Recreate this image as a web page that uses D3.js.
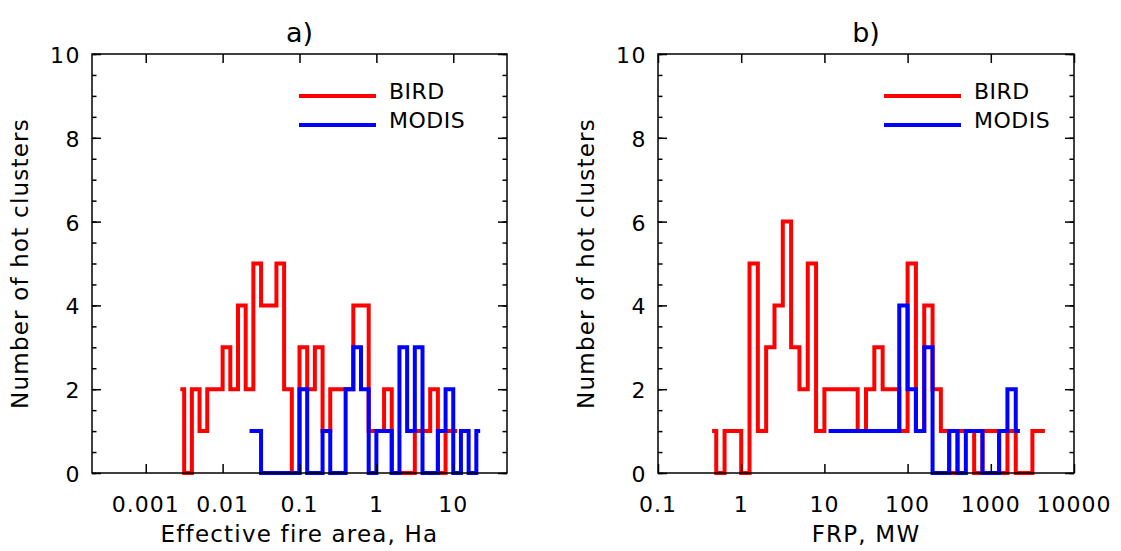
<html>
    <head>
       <script src="https://cdn.jsdelivr.net/npm/d3@7"></script>
       <style>
           body {
               margin: 0;
               background: white;
           }
           text {
               font-family: "DejaVu Sans", sans-serif;
               fill: black;
           }
       </style>
    </head>
    <body>
        <svg id="chart"></svg>
        <script>

            // bin centres are given as log10 exponents, counts per bin
            let areaBirdExp = [-2.55,-2.45,-2.35,-2.25,-2.15,-2.05,-1.95,-1.85,-1.75,-1.65,
                               -1.55,-1.45,-1.35,-1.25,-1.15,-1.05,-0.95,-0.85,-0.75,-0.65,
                               -0.55,-0.45,-0.35,-0.25,-0.15,-0.05,0.05,0.15,0.25,0.35,
                               0.45,0.55,0.65,0.75,0.85,0.95,1.05]
            let areaBirdCount = [2,0,2,1,2,2,3,2,4,2,
                                 5,4,4,5,2,0,3,2,3,1,
                                 2,2,2,4,4,1,1,2,0,0,
                                 0,1,1,2,0,1,1]

            let areaModisExp = [-1.65,-1.55,-1.45,-1.35,-1.25,-1.15,-1.05,-0.95,-0.85,-0.75,
                                -0.65,-0.55,-0.45,-0.35,-0.25,-0.15,-0.05,0.05,0.15,0.25,
                                0.35,0.45,0.55,0.65,0.75,0.85,0.95,1.05,1.15,1.25,1.35]
            let areaModisCount = [1,1,0,0,0,0,0,2,0,0,
                                  1,0,0,2,3,2,0,1,1,0,
                                  3,1,3,0,0,1,2,0,1,0,1]

            let frpBirdExp = [-0.35,-0.25,-0.15,-0.05,0.05,0.15,0.25,0.35,0.45,0.55,
                              0.65,0.75,0.85,0.95,1.05,1.15,1.25,1.35,1.45,1.55,
                              1.65,1.75,1.85,1.95,2.05,2.15,2.25,2.35,2.45,2.55,
                              2.65,2.75,2.85,2.95,3.05,3.15,3.25,3.35,3.45,3.55,3.65]
            let frpBirdCount = [1,0,1,1,0,5,1,3,4,6,
                                3,2,5,1,2,2,2,2,1,2,
                                3,2,2,1,5,1,4,2,1,0,
                                1,1,0,1,1,0,1,0,0,1,1]

            let frpModisExp = [1.05,1.15,1.25,1.35,1.45,1.55,1.65,1.75,1.85,1.95,
                               2.05,2.15,2.25,2.35,2.45,2.55,2.65,2.75,2.85,2.95,
                               3.05,3.15,3.25,3.35]
            let frpModisCount = [1,1,1,1,1,1,1,1,1,4,
                                 2,1,3,0,0,1,0,1,1,0,
                                 0,1,2,1]

            let areaTicks = [0.001, 0.01, 0.1, 1, 10]
            let areaTickLabels = ["0.001", "0.01", "0.1", "1", "10"]
            let frpTicks = [0.1, 1, 10, 100, 1000, 10000]
            let frpTickLabels = ["0.1", "1", "10", "100", "1000", "10000"]
            let yTicks = [0, 2, 4, 6, 8, 10]
            let yMinorTicks = d3.range(0, 10.01, 0.5)

            let seriesNames = ["BIRD", "MODIS"]
            let seriesColors = ["#ff0000", "#0000ff"]

            let panels = [
                {
                    title: "a)",
                    xTitle: "Effective fire area, Ha",
                    domain: [0.0002, 50],
                    left: 92, right: 507,
                    ticks: areaTicks, tickLabels: areaTickLabels,
                    series: [
                        { exp: areaBirdExp, count: areaBirdCount },
                        { exp: areaModisExp, count: areaModisCount }
                    ],
                    legendX: 299
                },
                {
                    title: "b)",
                    xTitle: "FRP, MW",
                    domain: [0.1, 10000],
                    left: 658, right: 1074,
                    ticks: frpTicks, tickLabels: frpTickLabels,
                    series: [
                        { exp: frpBirdExp, count: frpBirdCount },
                        { exp: frpModisExp, count: frpModisCount }
                    ],
                    legendX: 884
                }
            ]

            let width = 1121
            let height = 551
            let plotTop = 54
            let plotBottom = 473

            let svg = d3.select("#chart")
                        .attr("width", width)
                        .attr("height", height)

            let yScale = d3.scaleLinear()
                           .domain([0, 10])
                           .range([plotBottom, plotTop])

            function drawPanel(p) {
                let xScale = d3.scaleLog()
                               .domain(p.domain)
                               .range([p.left, p.right])

                let g = svg.append("g")

                // histograms
                let line = d3.line()
                             .x(d => xScale(Math.pow(10, d[0])))
                             .y(d => yScale(d[1]))
                             .curve(d3.curveStep)

                p.series.forEach((s, i) => {
                    let pts = s.exp.map((e, j) => [e, s.count[j]])
                    g.append("path")
                     .attr("d", line(pts))
                     .attr("fill", "none")
                     .attr("stroke", seriesColors[i])
                     .attr("stroke-width", 4)
                     .attr("stroke-linejoin", "miter")
                })

                // frame + ticks
                let bw = p.right - p.left
                let bh = plotBottom - plotTop

                g.append("g")
                 .attr("transform", `translate(0,${plotBottom})`)
                 .call(d3.axisTop(xScale).tickValues(p.ticks).tickSize(9).tickFormat(""))
                g.append("g")
                 .attr("transform", `translate(0,${plotTop})`)
                 .call(d3.axisBottom(xScale).tickValues(p.ticks).tickSize(9).tickFormat(""))
                g.append("g")
                 .attr("transform", `translate(${p.left},0)`)
                 .call(d3.axisRight(yScale).tickValues(yMinorTicks).tickSize(4.5).tickFormat(""))
                g.append("g")
                 .attr("transform", `translate(${p.left},0)`)
                 .call(d3.axisRight(yScale).tickValues(yTicks).tickSize(9).tickFormat(""))
                g.append("g")
                 .attr("transform", `translate(${p.right},0)`)
                 .call(d3.axisLeft(yScale).tickValues(yMinorTicks).tickSize(4.5).tickFormat(""))
                g.append("g")
                 .attr("transform", `translate(${p.right},0)`)
                 .call(d3.axisLeft(yScale).tickValues(yTicks).tickSize(9).tickFormat(""))

                g.selectAll(".domain").remove()
                g.selectAll(".tick line").attr("stroke", "black").attr("stroke-width", 1.5)

                g.append("rect")
                 .attr("x", p.left)
                 .attr("y", plotTop)
                 .attr("width", bw)
                 .attr("height", bh)
                 .attr("fill", "none")
                 .attr("stroke", "black")
                 .attr("stroke-width", 1.5)

                // tick labels
                g.selectAll(".xlab")
                 .data(p.ticks)
                 .enter()
                 .append("text")
                 .attr("x", d => xScale(d))
                 .attr("y", 512)
                 .attr("text-anchor", "middle")
                 .style("font-size", "22px")
                 .style("letter-spacing", "1px")
                 .text((d, i) => p.tickLabels[i])

                g.selectAll(".ylab")
                 .data(yTicks)
                 .enter()
                 .append("text")
                 .attr("x", p.left - 11)
                 .attr("y", d => yScale(d) + 9)
                 .attr("text-anchor", "end")
                 .style("font-size", "22px")
                 .style("letter-spacing", "1.5px")
                 .text(d => d)

                // titles
                g.append("text")
                 .attr("x", (p.left + p.right) / 2)
                 .attr("y", 42)
                 .attr("text-anchor", "middle")
                 .style("font-size", "27px")
                 .text(p.title)

                g.append("text")
                 .attr("x", (p.left + p.right) / 2)
                 .attr("y", 542)
                 .attr("text-anchor", "middle")
                 .style("font-size", "23px")
                 .style("letter-spacing", "1.2px")
                 .text(p.xTitle)

                g.append("text")
                 .attr("transform", `translate(${p.left - 64},${(plotTop + plotBottom) / 2}) rotate(-90)`)
                 .attr("text-anchor", "middle")
                 .style("font-size", "23px")
                 .style("letter-spacing", "1.2px")
                 .text("Number of hot clusters")

                // legend
                seriesNames.forEach((name, i) => {
                    let ly = 96 + i * 29
                    g.append("line")
                     .attr("x1", p.legendX)
                     .attr("x2", p.legendX + 77)
                     .attr("y1", ly)
                     .attr("y2", ly)
                     .attr("stroke", seriesColors[i])
                     .attr("stroke-width", 4)
                    g.append("text")
                     .attr("x", p.legendX + 90)
                     .attr("y", ly + 3)
                     .style("font-size", "22px")
                     .style("letter-spacing", "0.5px")
                     .text(name)
                })
            }

            panels.forEach(drawPanel)
        </script>
    </body>
</html>
